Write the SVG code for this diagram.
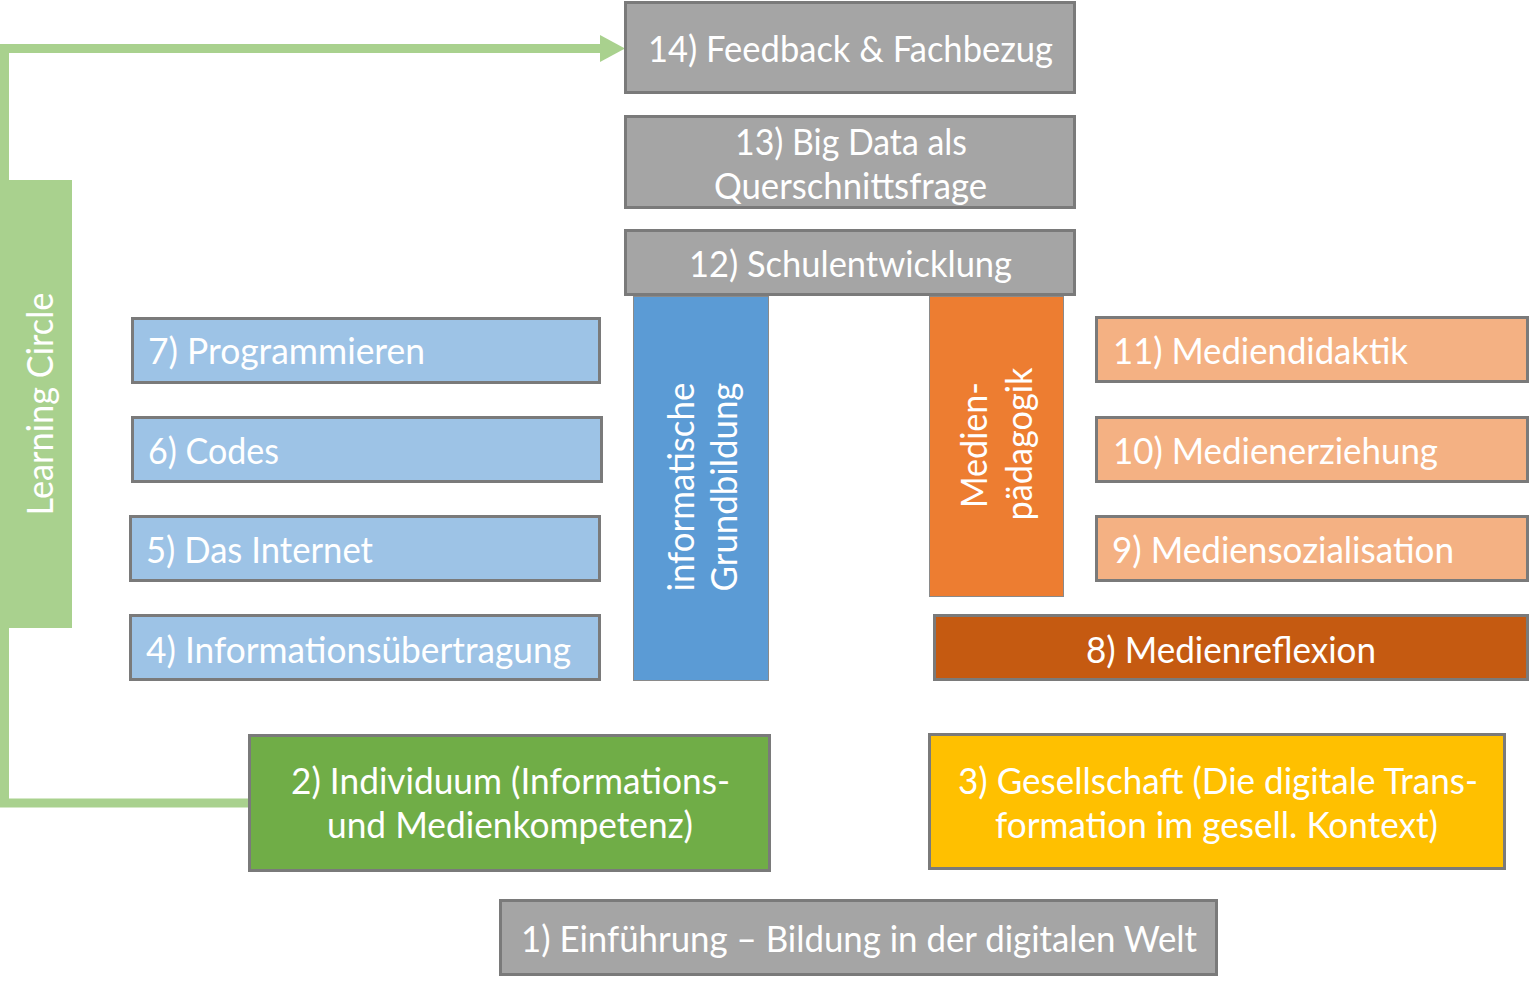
<svg xmlns="http://www.w3.org/2000/svg" width="1530" height="984" viewBox="0 0 1530 984">
  <defs>
    <style>
      .box { stroke: #7a7a7a; stroke-width: 3; }
      .bar { stroke: #8a8a8a; stroke-width: 1; }
      .gray { fill: #a5a5a5; }
      .lblue { fill: #9dc3e6; }
      .blue { fill: #5b9bd5; }
      .lorange { fill: #f4b183; }
      .orange { fill: #ed7d31; }
      .dorange { fill: #c55a11; }
      .green { fill: #70ad47; }
      .yellow { fill: #ffc000; }
      .lgreen { fill: #a9d18e; }
      text { font-family: Lato, "Open Sans", "Liberation Sans", sans-serif; font-size: 37px; fill: #ffffff; }
      .c { text-anchor: middle; }
      .link { fill: none; stroke: #a9d18e; stroke-width: 9; stroke-linejoin: miter; }
    </style>
    <marker id="arrow" markerUnits="userSpaceOnUse" markerWidth="26" markerHeight="28" refX="0" refY="13.5" orient="auto">
      <path d="M0,0 L25,13.5 L0,27 Z" fill="#a9d18e"/>
    </marker>
  </defs>

  <!-- learning circle loop from 2) back up to 14) -->
  <g id="connectors">
    <polyline class="link" points="252,803 4.5,803 4.5,48.5 600,48.5" marker-end="url(#arrow)"/>
  </g>

  <g id="learning-circle">
    <rect class="lgreen" x="0" y="180" width="72" height="448"/>
    <text class="c" transform="translate(53,404) rotate(-90)" textLength="223" lengthAdjust="spacingAndGlyphs">Learning Circle</text>
  </g>

  <g id="n14">
    <rect class="box gray" x="625.5" y="2.5" width="449" height="90"/>
    <text class="c" x="850.5" y="62" textLength="405" lengthAdjust="spacingAndGlyphs">14) Feedback &amp; Fachbezug</text>
  </g>

  <g id="n13">
    <rect class="box gray" x="625.5" y="116.5" width="449" height="91"/>
    <text class="c" x="851" y="155" textLength="232" lengthAdjust="spacingAndGlyphs">13) Big Data als</text>
    <text class="c" x="850.5" y="199" textLength="273" lengthAdjust="spacingAndGlyphs">Querschnittsfrage</text>
  </g>

  <g id="n12">
    <rect class="box gray" x="625.5" y="230.5" width="449" height="64"/>
    <text class="c" x="850.5" y="277" textLength="323" lengthAdjust="spacingAndGlyphs">12) Schulentwicklung</text>
  </g>

  <g id="informatische-grundbildung">
    <rect class="bar blue" x="633.5" y="296.5" width="135" height="384"/>
    <text class="c" transform="translate(694,487) rotate(-90)" textLength="209" lengthAdjust="spacingAndGlyphs">informatische</text>
    <text class="c" transform="translate(737,487) rotate(-90)" textLength="209" lengthAdjust="spacingAndGlyphs">Grundbildung</text>
  </g>

  <g id="medienpaedagogik">
    <rect class="bar orange" x="929.5" y="296.5" width="134" height="300"/>
    <text class="c" transform="translate(987,445) rotate(-90)" textLength="126" lengthAdjust="spacingAndGlyphs">Medien-</text>
    <text class="c" transform="translate(1032,444) rotate(-90)" textLength="153" lengthAdjust="spacingAndGlyphs">pädagogik</text>
  </g>

  <g id="n7">
    <rect class="box lblue" x="132.5" y="318.5" width="467" height="64"/>
    <text x="148" y="364" textLength="277" lengthAdjust="spacingAndGlyphs">7) Programmieren</text>
  </g>

  <g id="n6">
    <rect class="box lblue" x="132.5" y="417.5" width="469" height="64"/>
    <text x="148" y="464" textLength="131" lengthAdjust="spacingAndGlyphs">6) Codes</text>
  </g>

  <g id="n5">
    <rect class="box lblue" x="130.5" y="516.5" width="469" height="64"/>
    <text x="146" y="563" textLength="227" lengthAdjust="spacingAndGlyphs">5) Das Internet</text>
  </g>

  <g id="n4">
    <rect class="box lblue" x="130.5" y="615.5" width="469" height="64"/>
    <text x="146" y="663" textLength="425" lengthAdjust="spacingAndGlyphs">4) Informationsübertragung</text>
  </g>

  <g id="n11">
    <rect class="box lorange" x="1096.5" y="317.5" width="431" height="64"/>
    <text x="1113" y="364" textLength="295" lengthAdjust="spacingAndGlyphs">11) Mediendidaktik</text>
  </g>

  <g id="n10">
    <rect class="box lorange" x="1096.5" y="417.5" width="431" height="64"/>
    <text x="1113" y="464" textLength="325" lengthAdjust="spacingAndGlyphs">10) Medienerziehung</text>
  </g>

  <g id="n9">
    <rect class="box lorange" x="1096.5" y="516.5" width="431" height="64"/>
    <text x="1112" y="563" textLength="342" lengthAdjust="spacingAndGlyphs">9) Mediensozialisation</text>
  </g>

  <g id="n8">
    <rect class="box dorange" x="934.5" y="615.5" width="593" height="64"/>
    <text class="c" x="1231" y="663" textLength="290" lengthAdjust="spacingAndGlyphs">8) Medienreflexion</text>
  </g>

  <g id="n2">
    <rect class="box green" x="249.5" y="735.5" width="520" height="135"/>
    <text class="c" x="510.5" y="794" textLength="439" lengthAdjust="spacingAndGlyphs">2) Individuum (Informations-</text>
    <text class="c" x="510" y="838" textLength="366" lengthAdjust="spacingAndGlyphs">und Medienkompetenz)</text>
  </g>

  <g id="n3">
    <rect class="box yellow" x="929.5" y="734.5" width="575" height="134"/>
    <text class="c" x="1218" y="794" textLength="520" lengthAdjust="spacingAndGlyphs">3) Gesellschaft (Die digitale Trans-</text>
    <text class="c" x="1216.5" y="838" textLength="443" lengthAdjust="spacingAndGlyphs">formation im gesell. Kontext)</text>
  </g>

  <g id="n1">
    <rect class="box gray" x="500.5" y="900.5" width="716" height="74"/>
    <text class="c" x="859" y="952" textLength="676" lengthAdjust="spacingAndGlyphs">1) Einführung – Bildung in der digitalen Welt</text>
  </g>
</svg>
